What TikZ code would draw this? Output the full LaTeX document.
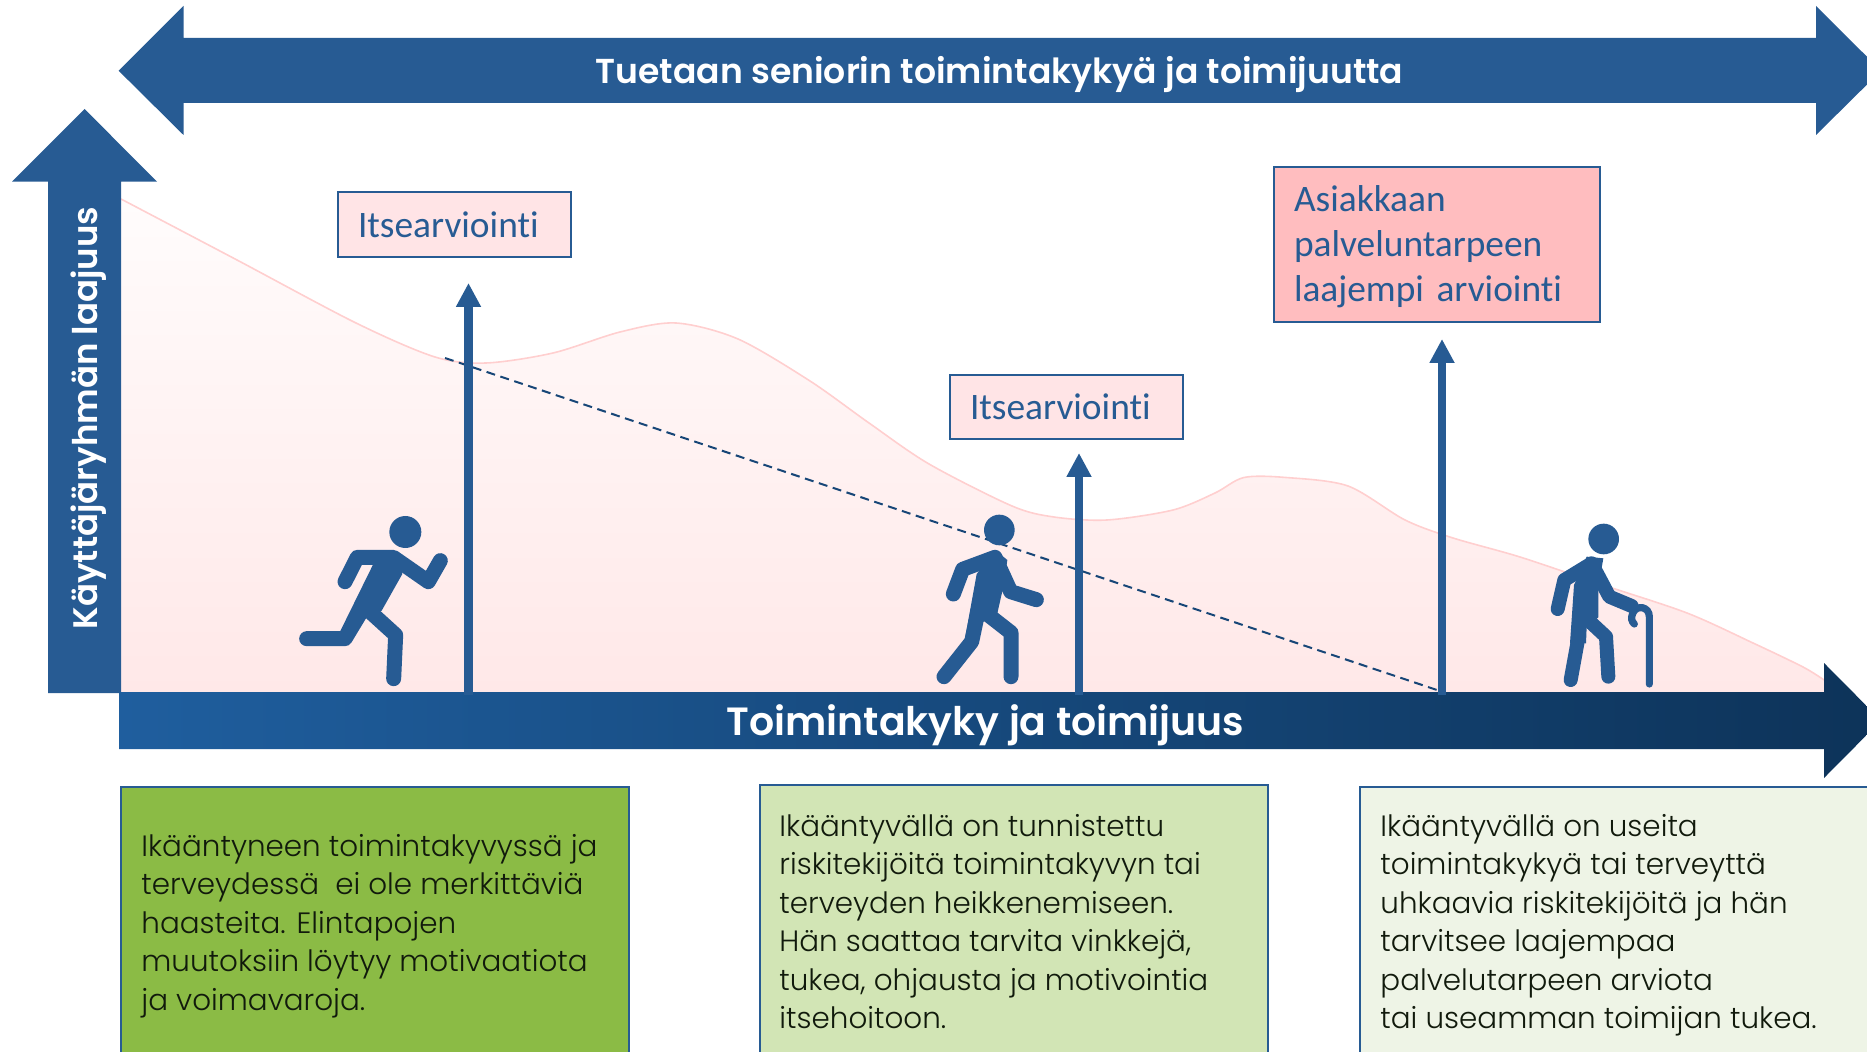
\documentclass[tikz,border=0pt]{standalone}
\usepackage{fontspec}
\usetikzlibrary{arrows.meta}
\setmainfont{Carlito}[Ligatures=NoCommon]
\newfontfamily\rw{Poppins}[UprightFont=* Light,BoldFont=* SemiBold]
\definecolor{mainblue}{HTML}{275B93}
\definecolor{barL}{HTML}{1F5E9E}
\definecolor{barR}{HTML}{0D3359}
\definecolor{curveline}{HTML}{FFCFCF}
\definecolor{hillA}{HTML}{FFFCFC}
\definecolor{hillB}{HTML}{FFEDED}
\definecolor{hillC}{HTML}{FFE8E8}
\definecolor{pinkA}{HTML}{FFE4E6}
\definecolor{pinkB}{HTML}{FFBDBF}
\definecolor{greenA}{HTML}{8BBB45}
\definecolor{greenB}{HTML}{D2E5B5}
\definecolor{greenC}{HTML}{EEF4E6}
\definecolor{inktext}{HTML}{111A0C}
\tikzset{
  pinkbox/.style={draw=mainblue,line width=1pt,outer sep=0pt,anchor=north west,inner xsep=10pt,inner ysep=0pt,align=left,text=mainblue,font=\fontsize{18.7}{22.4}\selectfont},
  greenbox/.style={draw=mainblue,line width=1.2pt,outer sep=0pt,anchor=north west,minimum width=254pt,minimum height=200pt},
  boxtext/.style={anchor=north west,inner sep=0pt,align=left,text=inktext,font=\rw\fontsize{14.7}{19.25}\selectfont},
  bartext/.style={text=white,inner sep=0pt,font=\rw\bfseries\fontsize{17.3}{22}\selectfont},
  upar/.style={draw=mainblue,line width=4.2pt,-{Triangle[width=11.8pt,length=12pt]}},
  limb/.style={draw=mainblue,line width=7.5pt,line cap=round,line join=round},
  figfill/.style={fill=mainblue}
}
\begin{document}
\begin{tikzpicture}[x=0.5pt,y=-0.5pt]
\useasboundingbox (0,0) rectangle (1867,1052);
% hill
\fill[top color=hillA,middle color=hillB,bottom color=hillC]
  plot[smooth,tension=0.5] coordinates {(121,199)(237,260)(356,323)(435,357)(486,363)(553,353)(620,332)(676,323)(738,339)(810,381)(869,423)(929,464)(1012,506)(1054,517)(1107,520)(1173,510)(1215,493)(1244,477.5)(1286,477.5)(1348,486)(1405,520)(1453,538)(1520,557)(1603,585)(1687,613)(1753,643)(1803,667)(1824,680)}
  -- (1824,693) -- (121,693) -- cycle;
\draw[curveline,line width=0.8pt]
  plot[smooth,tension=0.5] coordinates {(121,199)(237,260)(356,323)(435,357)(486,363)(553,353)(620,332)(676,323)(738,339)(810,381)(869,423)(929,464)(1012,506)(1054,517)(1107,520)(1173,510)(1215,493)(1244,477.5)(1286,477.5)(1348,486)(1405,520)(1453,538)(1520,557)(1603,585)(1687,613)(1753,643)(1803,667)(1824,680)};
% top double arrow
\fill[mainblue] (118.6,70.7) -- (183.5,6) -- (183.5,38) -- (1816,38) -- (1816,6) -- (1881,70.7) -- (1816,135) -- (1816,103) -- (183.5,103) -- (183.5,135) -- cycle;
\node[bartext] (toptext) at (999.5,74.5) {Tuetaan seniorin toimintakykyä ja toimijuutta};
% vertical arrow
\fill[mainblue] (84.6,109) -- (157,181.7) -- (121,181.7) -- (121,693) -- (48,693) -- (48,181.7) -- (12,181.7) -- cycle;
\node[bartext,rotate=90,font=\rw\bfseries\fontsize{17}{22}\selectfont] (ytext) at (88.5,418) {Käyttäjäryhmän laajuus};
% bottom arrow
\shade[left color=barL,right color=barR] (119,692) -- (1824,692) -- (1824,663) -- (1881,720.5) -- (1824,778) -- (1824,749) -- (119,749) -- cycle;
\node[bartext,font=\rw\bfseries\fontsize{19.7}{22}\selectfont] (xtext) at (985.5,725.5) {Toimintakyky ja toimijuus};
% dashed
\coordinate (d1) at (445,358);
\coordinate (d2) at (1443,692);
\draw[barL!75!black,line width=1pt,dash pattern=on 4.5pt off 2.8pt] (d1) -- (d2);
% small arrows
\coordinate (a1s) at (468.5,695); \coordinate (a1e) at (468.5,283);
\coordinate (a2s) at (1079,695); \coordinate (a2e) at (1079,453);
\coordinate (a3s) at (1442,695); \coordinate (a3e) at (1442,339);
\draw[upar] (a1s) -- (a1e);
\draw[upar] (a2s) -- (a2e);
\draw[upar] (a3s) -- (a3e);
% assessment boxes
\node[pinkbox,fill=pinkA,minimum width=116.5pt,minimum height=32.5pt,text width=96.5pt] (b1) at (338,192) {Itsearviointi};
\node[pinkbox,fill=pinkA,minimum width=116.5pt,minimum height=32pt,text width=96.5pt] (b2) at (950,375) {Itsearviointi};
\node[pinkbox,fill=pinkB,minimum width=163pt,minimum height=77.5pt,text width=143pt] (b3) at (1274,167) {\rule{0pt}{15pt}Asiakkaan\\palveluntarpeen\\laajempi arviointi};
% runner
\begin{scope}[shift={(280,500)},scale=1/3]
  \fill[mainblue] (376,96) circle (48);
  \draw[limb] (195,245) -- (232,172) -- (340,172) -- (445,245) -- (481,182);
  \fill[mainblue] (281,190) -- (350,170) -- (367,222) -- (305,332) -- (255,352) -- (213,425) -- (180,395) -- cycle;
  \draw[limb] (80,416) -- (195,416) -- (265,300);
  \draw[limb] (341,536) -- (347,405) -- (270,335);
\end{scope}
% walker
\begin{scope}[shift={(920,500)},scale=1/3]
  \fill[mainblue] (238,90) circle (46);
  \draw[limb] (100,282) -- (128,208) -- (225,172) -- (272,275) -- (349,299);
  \fill[mainblue] (170,222) -- (225,150) -- (262,180) -- (250,260) -- (232,340) -- (190,365) -- (135,415) -- cycle;
  \draw[limb] (72,530) -- (155,425) -- (175,330);
  \draw[limb] (205,345) -- (273,398) -- (273,530);
\end{scope}
% elder
\begin{scope}[shift={(1520,500)},scale=1/3]
  \fill[mainblue] (251,117) circle (46);
  \draw[limb,line width=7pt] (113,327) -- (133,240) -- (215,190) -- (268,290) -- (335,318);
  \fill[mainblue] (162,255) -- (200,170) -- (250,175) -- (235,260) -- (235,352) -- (200,380) -- (198,430) -- (150,430) -- cycle;
  \draw[limb,line width=7pt] (215,370) -- (258,410) -- (265,530);
  \draw[limb,line width=7pt] (175,400) -- (172,430) -- (152,540);
  \draw[draw=mainblue,line width=3.6pt,line cap=round] (388,552) -- (388,350) .. controls (388,320) and (350,312) .. (338,340) .. controls (332,355) and (335,365) .. (343,372);
\end{scope}
% green boxes
\node[greenbox,fill=greenA] (g1) at (121,787) {};
\node[greenbox,fill=greenB] (g2) at (760,785) {};
\node[greenbox,fill=greenC] (g3) at (1360,787) {};
\node[boxtext] (t1) at (141,833.5) {Ikääntyneen toimintakyvyssä ja\\terveydessä \ ei ole merkittäviä\\haasteita. Elintapojen\\muutoksiin löytyy motivaatiota\\ja voimavaroja.};
\node[boxtext] (t2) at (779,813.5) {Ikääntyvällä on tunnistettu\\riskitekijöitä toimintakyvyn tai\\terveyden heikkenemiseen.\\Hän saattaa tarvita vinkkejä,\\tukea, ohjausta ja motivointia\\itsehoitoon.};
\node[boxtext] (t3) at (1380,813.5) {Ikääntyvällä on useita\\toimintakykyä tai terveyttä\\uhkaavia riskitekijöitä ja hän\\tarvitsee laajempaa\\palvelutarpeen arviota\\tai useamman toimijan tukea.};
\end{tikzpicture}
\end{document}
